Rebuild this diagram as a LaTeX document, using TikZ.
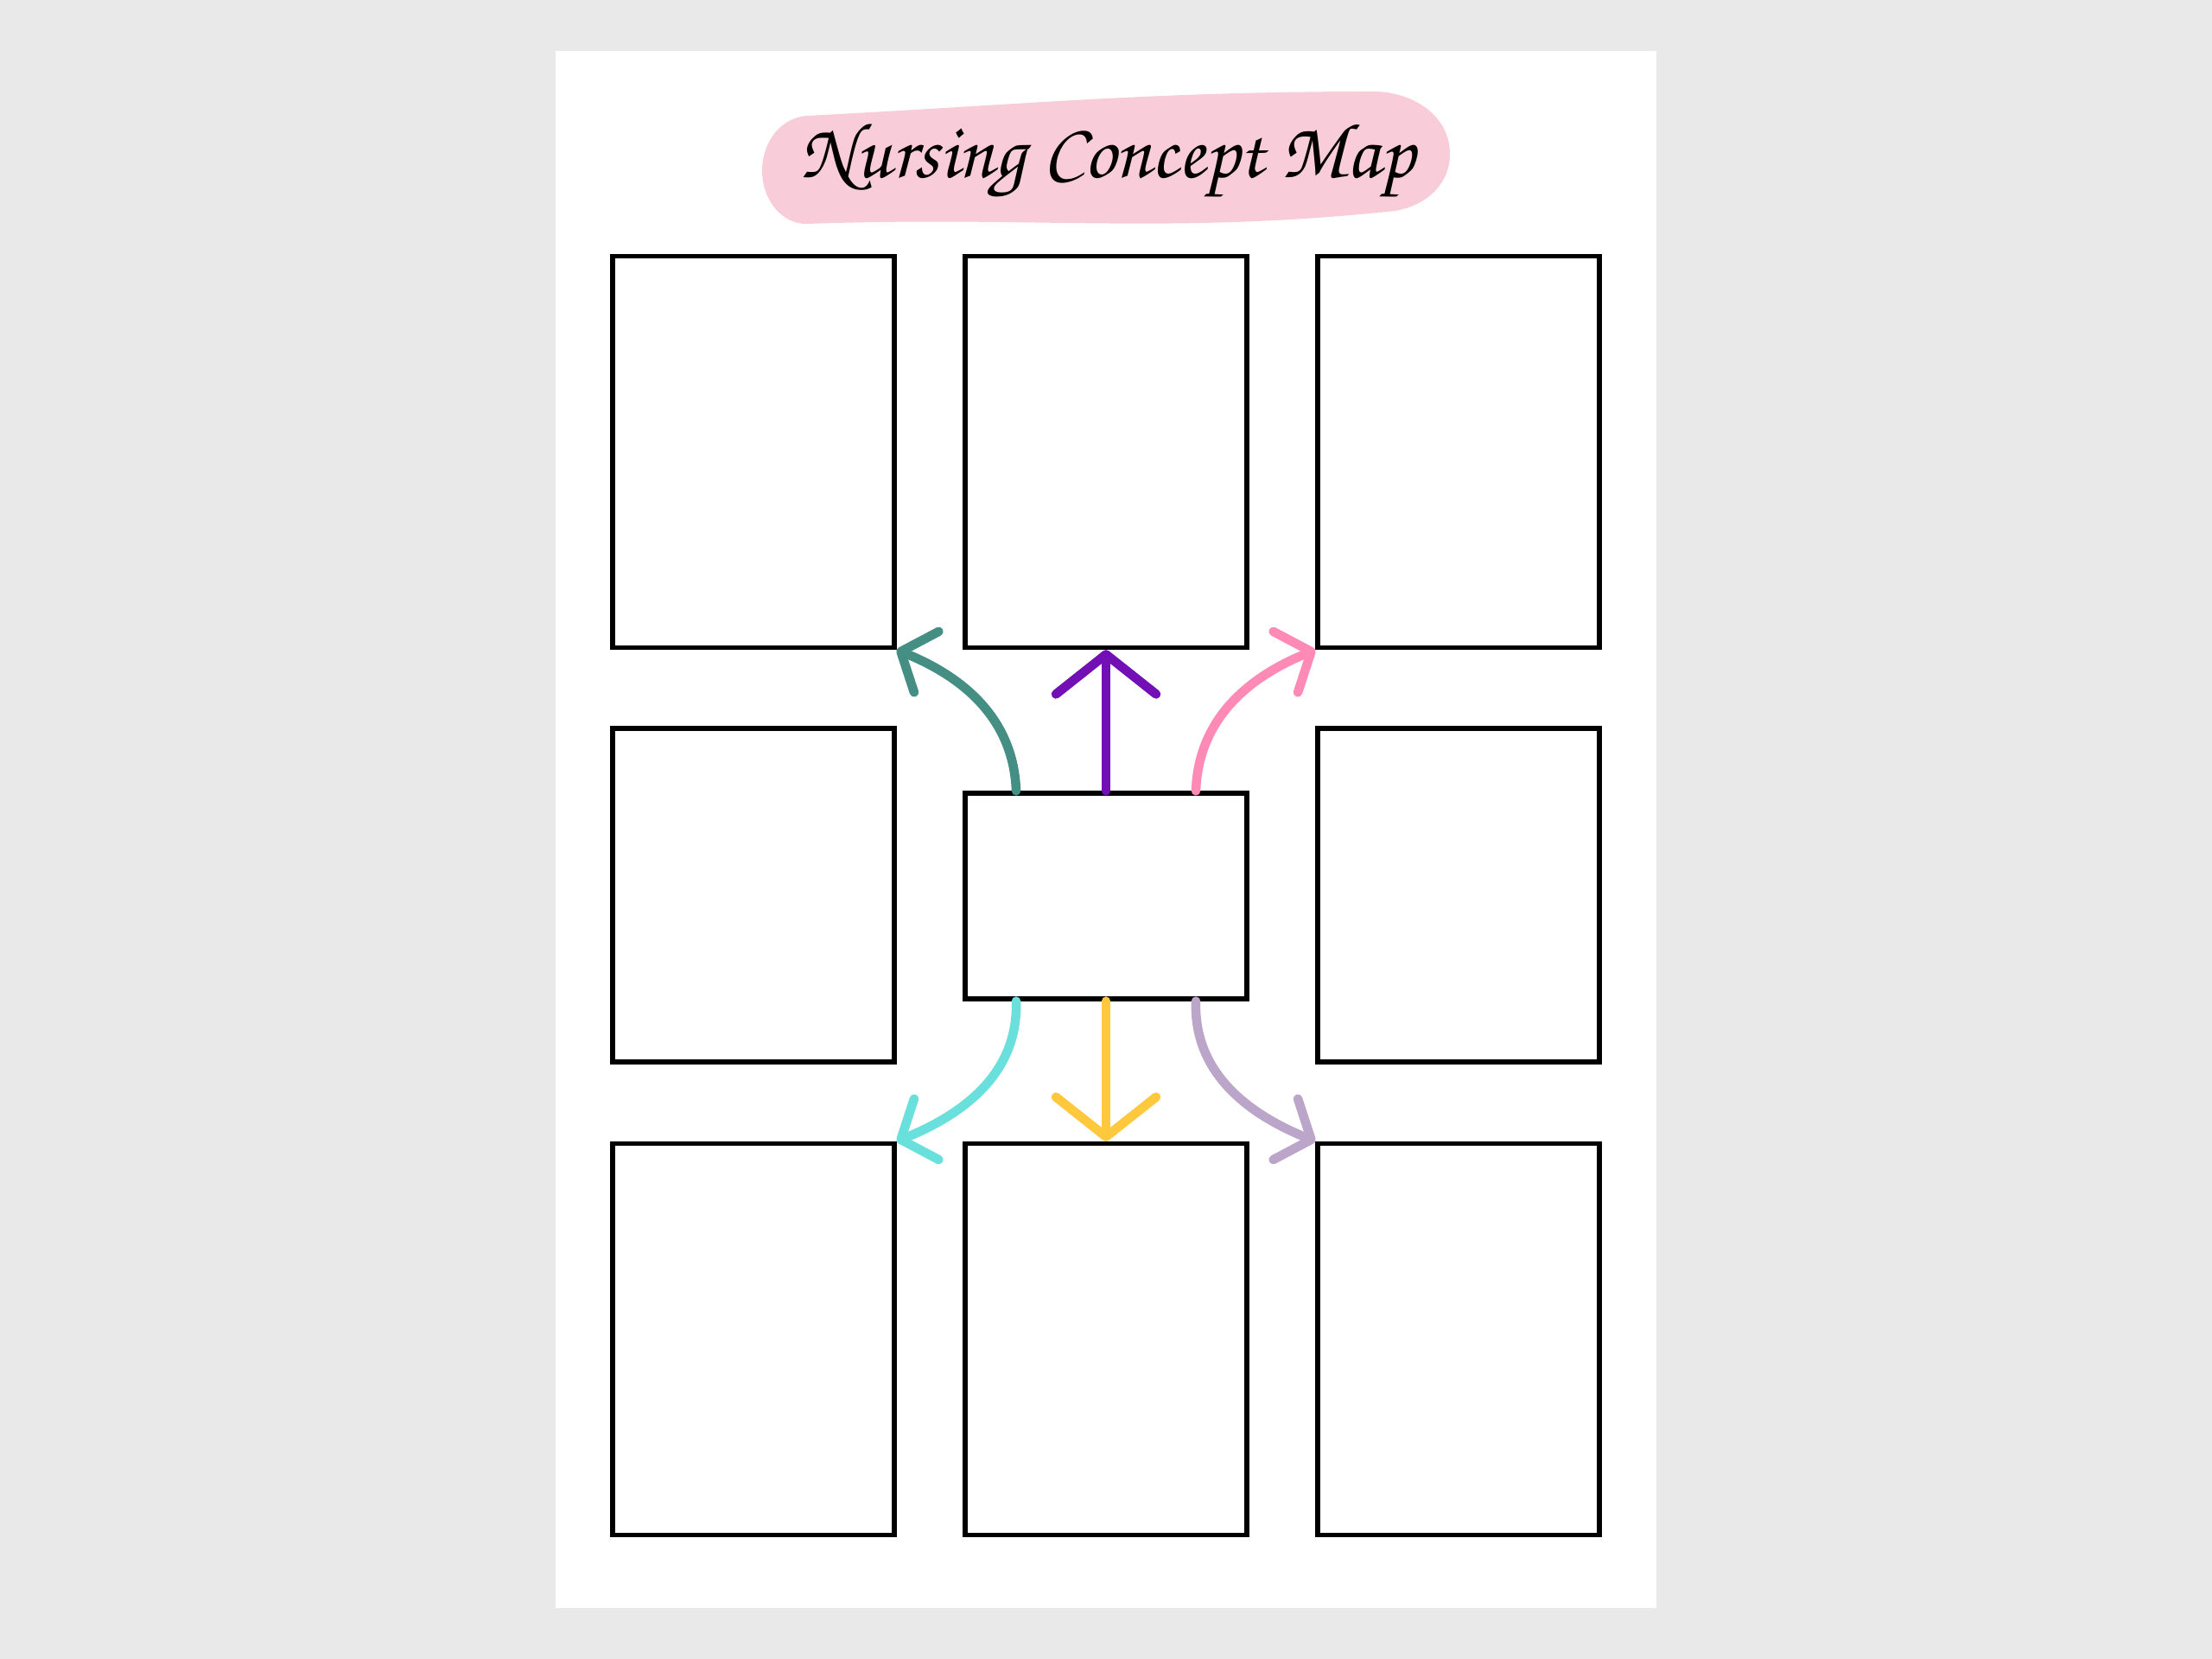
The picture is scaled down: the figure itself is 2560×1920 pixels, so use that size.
\documentclass[tikz,border=0pt]{standalone}
\usepackage{fontspec}
\usepackage{graphicx}
\newfontfamily\chorusfont{texgyrechorus-mediumitalic.otf}
\usetikzlibrary{arrows.meta}
\definecolor{wallgray}{HTML}{E9E9E9}
\definecolor{blobpink}{HTML}{F9CCDA}
\definecolor{tealarrow}{HTML}{458E84}
\definecolor{purplearrow}{HTML}{7310B5}
\definecolor{pinkarrow}{HTML}{FF8AB5}
\definecolor{cyanarrow}{HTML}{6AE0DC}
\definecolor{yellowarrow}{HTML}{FFC83D}
\definecolor{lilacarrow}{HTML}{BBA5C9}
\tikzset{
  map box/.style={
    draw,
    fill=white,
    line width=1.5pt,
    inner sep=0pt,
    minimum width=32.6mm,
  },
  tall box/.style={map box, minimum height=45.3mm},
  side box/.style={map box, minimum height=38.6mm},
  hub box/.style={map box, minimum height=23.8mm},
  link/.style={line width=3pt, line cap=round,
    -{Straight Barb[round, length=3.2mm, width=7.6mm]}},
  spoke/.style={line width=3pt, line cap=round,
    -{Straight Barb[round, length=4.6mm, width=11.6mm]}},
}

\begin{document}
\begin{tikzpicture}[x=0.1mm, y=0.1mm]
        \fill[wallgray] (0,0) rectangle (2560,1920);
        \fill[white] (643,59) rectangle (1917,1861);
        \useasboundingbox (0,0) rectangle (2560,1920);

        % title
        \fill[blobpink] (935,1786) to[out=3, in=180] (1590,1814)
          to[out=0, in=90] (1678,1742) to[out=-90, in=10] (1615,1676)
          to[out=186, in=2] (935,1661) to[out=182, in=-90] (882,1722)
          to[out=90, in=183] cycle;
        \node (title) at (1282,1734)
          {\resizebox{71mm}{!}{\chorusfont Nursing Concept Map}};

        \node[tall box] (tl) at (872,1397) {};
        \node[tall box] (tm) at (1280,1397) {};
        \node[tall box] (tr) at (1688,1397) {};
        \node[side box] (ml) at (872,884) {};
        \node[hub box]  (hub) at (1280,883) {};
        \node[side box] (mr) at (1688,884) {};
        \node[tall box] (bl) at (872,370) {};
        \node[tall box] (bm) at (1280,370) {};
        \node[tall box] (br) at (1688,370) {};

        \draw[spoke, purplearrow] (hub.north) to (tm.south);
        \draw[spoke, yellowarrow] (hub.south) to (bm.north);

        \draw[link, tealarrow]  ([xshift=-10.4mm]hub.north) to[out=92, in=-22]  (tl.south east);
        \draw[link, pinkarrow]  ([xshift=10.4mm]hub.north)  to[out=88, in=202]  (tr.south west);
        \draw[link, cyanarrow]  ([xshift=-10.4mm]hub.south) to[out=-88, in=22]  (bl.north east);
        \draw[link, lilacarrow] ([xshift=10.4mm]hub.south)  to[out=-92, in=158] (br.north west);
\end{tikzpicture}
\end{document}
